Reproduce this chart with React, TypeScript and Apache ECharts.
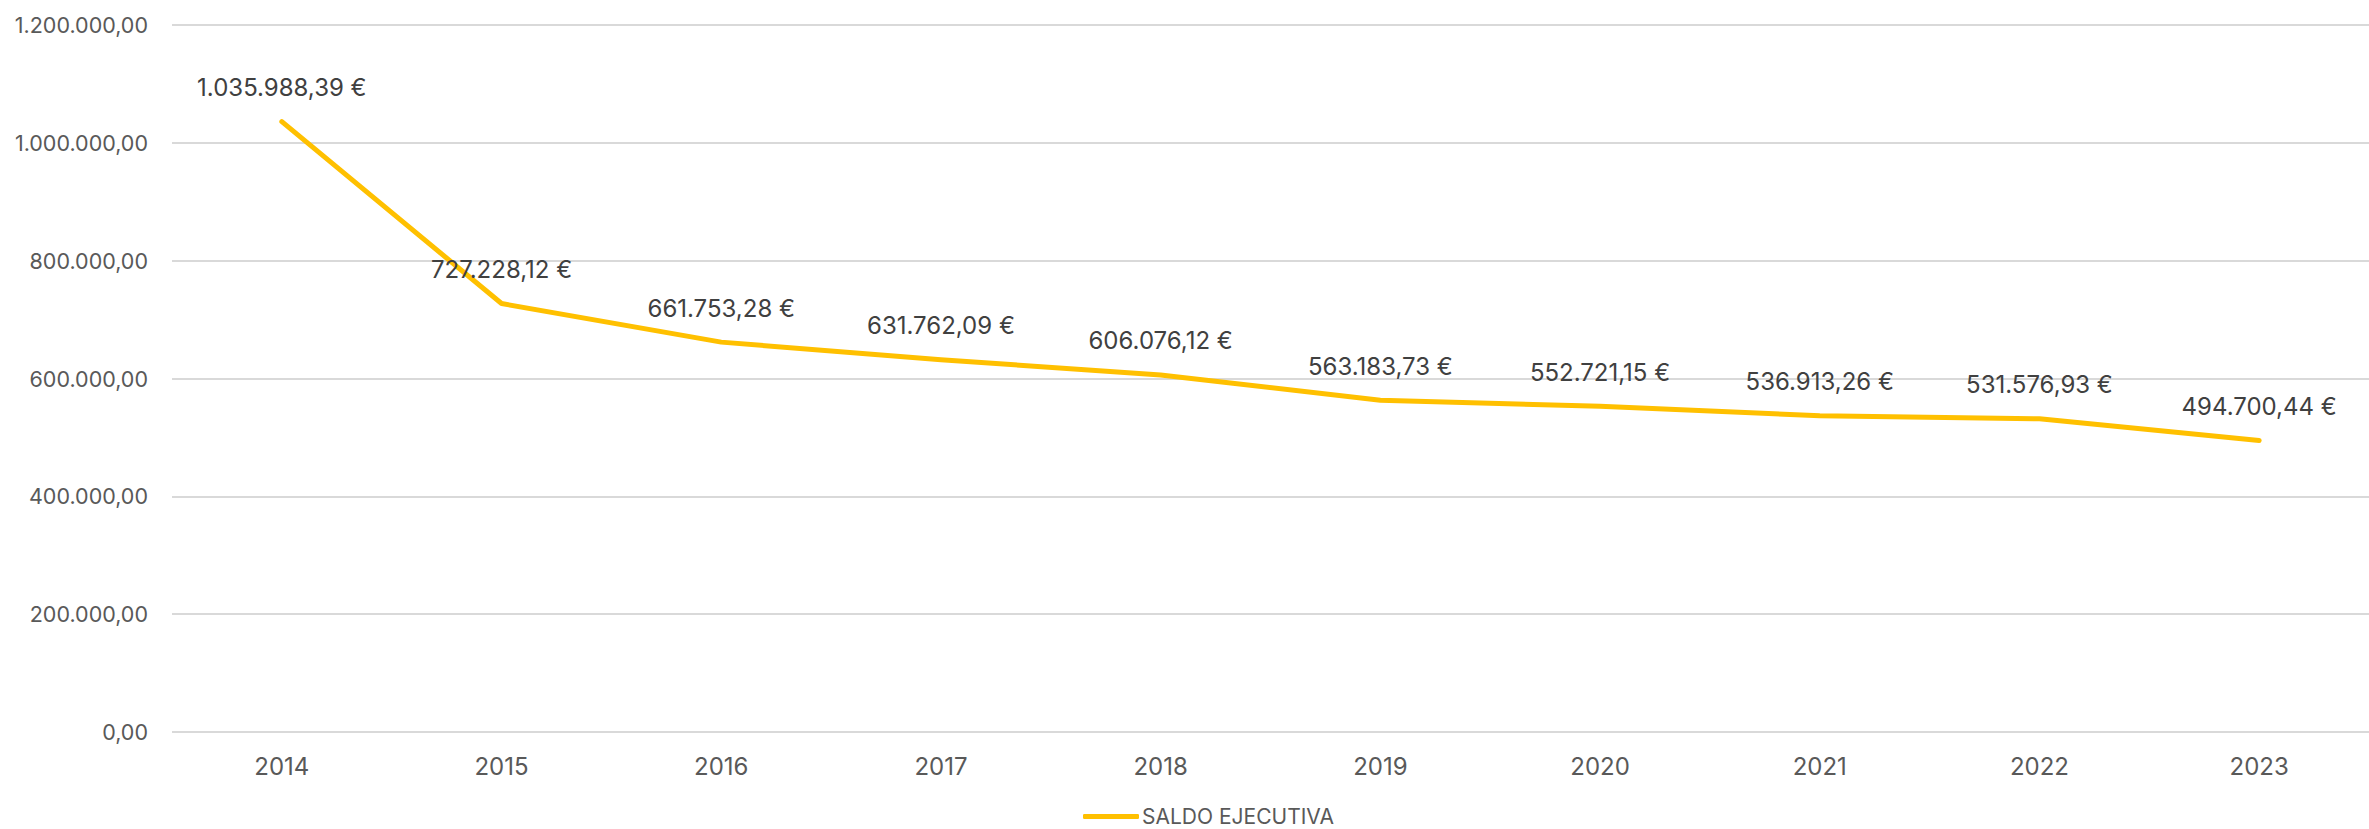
import React, { useEffect, useRef } from "react";
import * as echarts from "echarts";

const categories = ["2014", "2015", "2016", "2017", "2018", "2019", "2020", "2021", "2022", "2023"];
const saldoEjecutiva = [1035988.39, 727228.12, 661753.28, 631762.09, 606076.12, 563183.73, 552721.15, 536913.26, 531576.93, 494700.44];
const seriesName = "SALDO EJECUTIVA";
const yMin = 0;
const yMax = 1200000;
const yInterval = 200000;

function fmt(v: number): string {
  const fixed = Math.abs(v).toFixed(2);
  const [intPart, dec] = fixed.split(".");
  const withDots = intPart.replace(/\B(?=(\d{3})+(?!\d))/g, ".");
  return (v < 0 ? "-" : "") + withDots + "," + dec;
}

const FONT = "Inter";
const TEXT = "#595959";

export default function App() {
  const ref = useRef<HTMLDivElement>(null);
  useEffect(() => {
    if (!ref.current) return;
    const chart = echarts.init(ref.current, undefined, { renderer: "svg" });
    chart.setOption({
      animation: false,
      backgroundColor: "#ffffff",
      grid: { left: 172, top: 25, width: 2212, height: 707 },
      legend: {
        data: [{ name: seriesName, icon: "roundRect" }],
        top: 806,
        left: 1083,
        padding: 0,
        itemWidth: 56,
        itemHeight: 5,
        itemGap: 10,
        textStyle: { color: TEXT, fontSize: 21, fontFamily: FONT, padding: [0, 0, 0, -2] },
      },
      xAxis: {
        type: "category",
        data: categories,
        boundaryGap: true,
        axisLine: { show: false },
        axisTick: { show: false },
        axisLabel: { color: TEXT, fontSize: 24, fontFamily: FONT, margin: 22 },
      },
      yAxis: {
        type: "value",
        min: yMin,
        max: yMax,
        interval: yInterval,
        axisLine: { show: false },
        axisTick: { show: false },
        splitLine: { lineStyle: { color: "#D9D9D9", width: 2 } },
        axisLabel: { color: TEXT, fontSize: 21.5, fontFamily: FONT, margin: 24, formatter: (v: number) => fmt(v) },
      },
      series: [
        {
          name: seriesName,
          type: "line",
          data: saldoEjecutiva,
          showSymbol: true,
          symbol: "circle",
          symbolSize: 0,
          lineStyle: { color: "#FFC000", width: 5, cap: "round", join: "round" },
          itemStyle: { color: "#FFC000" },
          label: {
            show: true,
            position: "top",
            distance: 22,
            color: "#404040",
            fontSize: 24,
            fontFamily: FONT,
            formatter: (p: any) => fmt(p.value) + " €",
          },
        },
      ],
    });
    return () => chart.dispose();
  }, []);
  return (
    <div
      ref={ref}
      style={{ position: "fixed", left: 0, top: 0, width: 2369, height: 829, overflow: "hidden" }}
    />
  );
}
